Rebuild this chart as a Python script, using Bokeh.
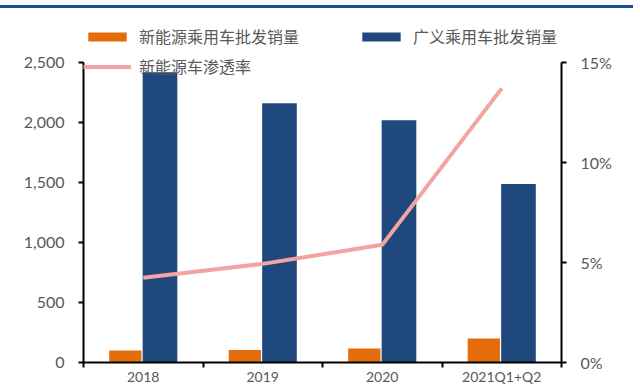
import numpy as np
from bokeh.plotting import figure
from bokeh.models import (Range1d, LinearAxis, FixedTicker, NumeralTickFormatter,
                          PrintfTickFormatter, CustomJSTickFormatter, Legend, LegendItem,
                          Div, ColumnDataSource, CustomLabelingPolicy)
from bokeh.layouts import column
from bokeh.embed import file_html
from bokeh.resources import INLINE

# ---- data ----
categories = ["2018", "2019", "2020", "2021Q1+Q2"]
nev_sales = [100, 105, 116, 200]          # 新能源乘用车批发销量
total_sales = [2417, 2159, 2018, 1487]    # 广义乘用车批发销量
nev_rate = [4.24, 4.93, 5.88, 13.7]       # 新能源车渗透率 (%)
left_ticks = [0, 500, 1000, 1500, 2000, 2500]
right_ticks = [0, 5, 10, 15]

ORANGE = "#E46C0A"
BLUE = "#1F497D"
PINK = "#F4A3A3"
GREY = "#595959"
CJK = "Noto Sans CJK SC"
NUM = "Lato"

n = len(categories)
center = np.arange(n) + 0.5   # category slot centres on a 0..n axis
src = ColumnDataSource(dict(cat=categories, xc=center, xo=center - 0.15, xb=center + 0.14,
                            nev=nev_sales, tot=total_sales, rate=nev_rate))

W, H = 633, 379
p = figure(width=W, height=H, output_backend="svg", toolbar_location=None, title=None,
           x_range=Range1d(0, n), y_range=Range1d(0, 2500 * 352 / 301),
           x_axis_location=None, y_axis_location="left",
           min_border_left=83, min_border_right=72, min_border_top=3)
p.extra_y_ranges = {"pct": Range1d(0, 15 * 352 / 301)}

p.background_fill_color = "white"
p.border_fill_color = "white"
p.outline_line_color = None
p.xgrid.visible = False
p.ygrid.visible = False

r_or = p.vbar(x="xo", top="nev", width=0.27, source=src, color=ORANGE, line_color=None)
r_bl = p.vbar(x="xb", top="tot", width=0.29, source=src, color=BLUE, line_color=None)
r_ln = p.line(x="xc", y="rate", source=src, y_range_name="pct",
              line_color=PINK, line_width=4)

# left axis
ya = p.yaxis[0]
ya.ticker = FixedTicker(ticks=left_ticks)
ya.formatter = NumeralTickFormatter(format="0,0")
ya.bounds = (0, 2500)

# right axis
yr = LinearAxis(y_range_name="pct", ticker=FixedTicker(ticks=right_ticks),
                formatter=PrintfTickFormatter(format="%d%%"), bounds=(0, 15))
p.add_layout(yr, "right")

for ax in (ya, yr):
    ax.axis_line_color = "black"
    ax.axis_line_width = 2
    ax.major_tick_line_color = "black"
    ax.major_tick_line_width = 2
    ax.major_tick_in = 0
    ax.major_tick_out = 5
    ax.minor_tick_line_color = None
    ax.major_label_text_color = GREY
    ax.major_label_text_font = NUM
    ax.major_label_text_font_size = "16px"
    ax.major_label_standoff = 14

# bottom: axis line with ticks at category edges (no labels)
xe = LinearAxis(ticker=FixedTicker(ticks=list(range(n + 1))),
                major_label_policy=CustomLabelingPolicy(
                    code="for (const i of [...indices]) indices.unset(i); return indices;"))
xe.axis_line_color = "black"
xe.axis_line_width = 2
xe.major_tick_line_color = "black"
xe.major_tick_line_width = 2
xe.major_tick_in = 0
xe.major_tick_out = 5
xe.minor_tick_line_color = None
xe.major_label_text_font_size = "0px"
xe.major_label_standoff = 0
p.add_layout(xe, "below")

# category labels at slot centres
xc = LinearAxis(ticker=FixedTicker(ticks=list(center)),
                formatter=CustomJSTickFormatter(args=dict(labels=categories),
                                                code="return labels[Math.floor(tick)] || '';"))
xc.axis_line_color = None
xc.major_tick_line_color = None
xc.minor_tick_line_color = None
xc.major_tick_in = 0
xc.major_tick_out = 0
xc.major_label_text_color = GREY
xc.major_label_text_font = NUM
xc.major_label_text_font_size = "14px"
xc.major_label_standoff = 0
p.add_layout(xc, "below")

# legends
def style_legend(lg):
    lg.background_fill_alpha = 0
    lg.border_line_alpha = 0
    lg.padding = 0
    lg.margin = 0
    lg.spacing = 2
    lg.glyph_width = 48
    lg.glyph_height = 11
    lg.label_height = 28
    lg.label_standoff = 8
    lg.label_text_font = CJK
    lg.label_text_font_size = "16px"
    lg.label_text_color = GREY

legA = Legend(items=[LegendItem(label="新能源乘用车批发销量", renderers=[r_or]),
                     LegendItem(label="新能源车渗透率", renderers=[r_ln])],
              location=(0, 282))
legB = Legend(items=[LegendItem(label="广义乘用车批发销量", renderers=[r_bl])],
              location=(274, 312))
for lg in (legA, legB):
    style_legend(lg)
    p.add_layout(lg, "center")

topline = Div(width=W, height=3, margin=(5, 0, 0, 0),
              styles={"background-color": "#1F4E8C"})
layout = column(topline, p, spacing=0)

open("out.html", "w").write(file_html(layout, INLINE))
